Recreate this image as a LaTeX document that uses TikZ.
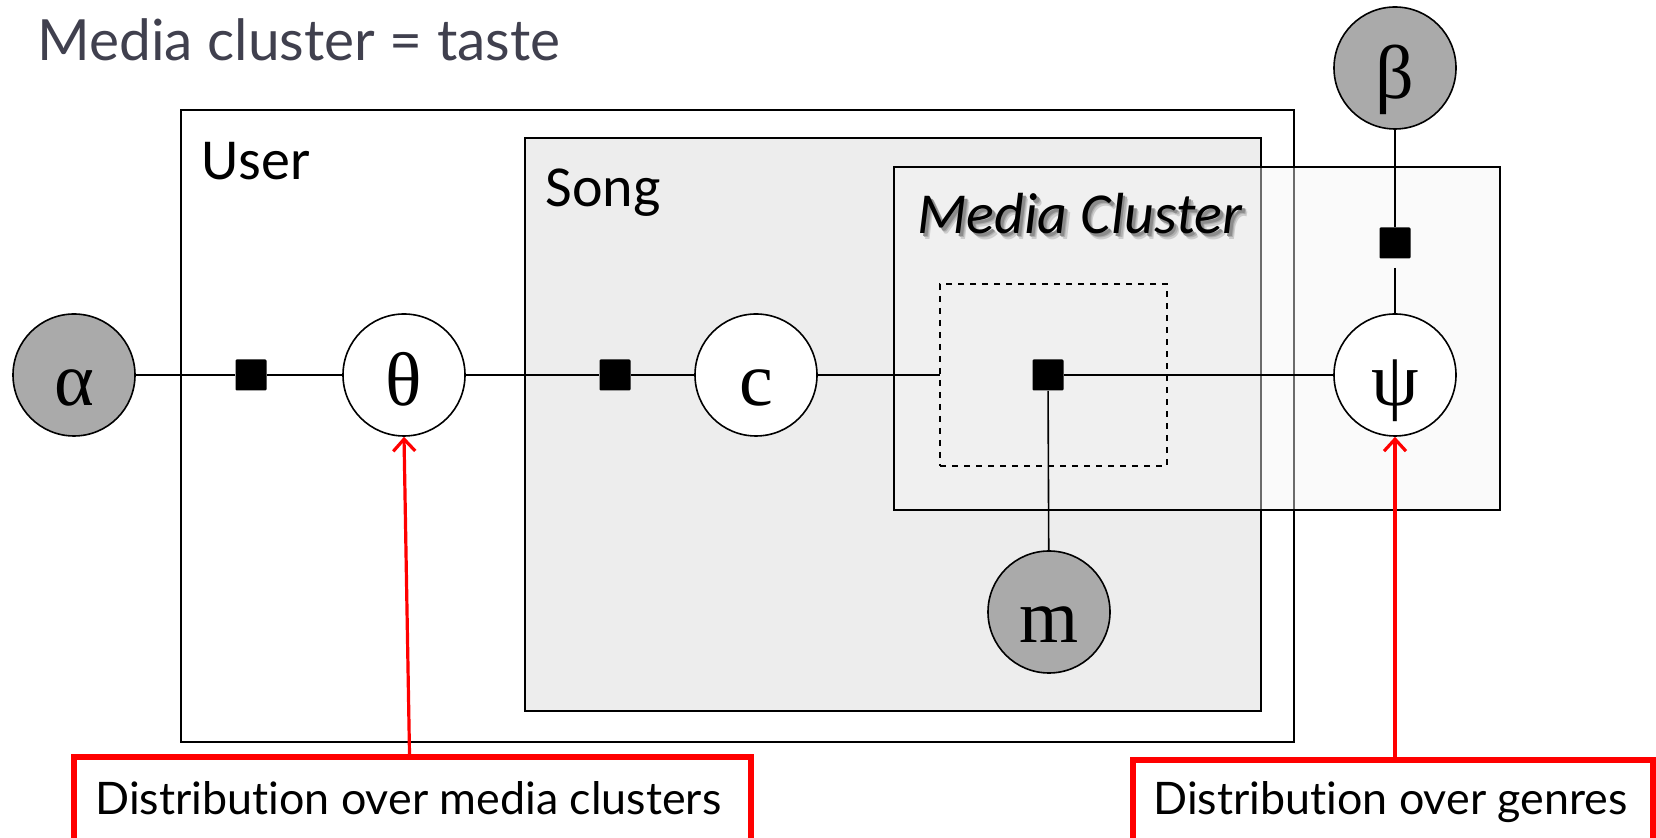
\documentclass[tikz,border=0pt]{standalone}
\usepackage{fontspec}
\setmainfont{Liberation Serif}
\newfontfamily\gillfont[Ligatures={NoCommon}]{Lato}
\newfontfamily\calfont{Carlito}
\usetikzlibrary{arrows.meta,shadows}

\definecolor{obsgray}{RGB}{170,170,170}
\definecolor{songgray}{RGB}{237,237,237}
\definecolor{mediagray}{RGB}{244,244,244}
\definecolor{titlegray}{RGB}{64,64,78}
\definecolor{calloutred}{RGB}{255,0,0}
\definecolor{shadeA}{RGB}{205,205,205}
\definecolor{shadeB}{RGB}{175,175,175}
\definecolor{shadeC}{RGB}{140,140,140}

% soft shadow behind a piece of text, built from offset grey copies
\newcommand{\softshadowtext}[1]{%
  \rlap{\color{shadeA}\kern2.6pt\raisebox{-2.6pt}{#1}}%
  \rlap{\color{shadeB}\kern2pt\raisebox{-2pt}{#1}}%
  \rlap{\color{shadeC}\kern1.4pt\raisebox{-1.4pt}{#1}}%
  #1}

\begin{document}
\begin{tikzpicture}[x=0.5pt,y=-0.5pt,
  var/.style={circle,draw=black,line width=0.8pt,fill=white,minimum size=61pt,
    inner sep=0pt,font=\fontsize{38}{38}\selectfont,text height=31pt,text depth=0pt},
  obs/.style={var,fill=obsgray},
  fac/.style={rectangle,fill=black,minimum size=15.5pt,inner sep=0pt,rounded corners=0.6pt},
  plate/.style={rectangle,draw=black,inner sep=0pt,outer sep=0pt},
  platelabel/.style={anchor=base west,inner sep=0pt,font=\calfont\fontsize{29}{29}\selectfont},
  edge/.style={line width=0.8pt},
  callout/.style={rectangle,draw=calloutred,line width=3pt,fill=white,inner sep=0pt,
    drop shadow={opacity=0.25,shadow xshift=1pt,shadow yshift=-1.5pt}},
  callouttext/.style={anchor=base west,inner sep=0pt,font=\gillfont\fontsize{22.4}{22.4}\selectfont},
  pointer/.style={draw=calloutred,line width=1.6pt,-{Straight Barb[length=6pt,width=11pt]}},
]
\useasboundingbox (0,0) rectangle (1656,838);

% title
\node[anchor=base west,inner sep=0pt,text=titlegray,font=\gillfont\fontsize{28.4}{28.4}\selectfont]
  (title) at (37,61) {Media cluster = taste};

% plates
\node[plate,line width=1.2pt,fill=white,minimum width=556.5pt,minimum height=316pt]
  (user) at (737.5,426) {};
\node[platelabel] (userlbl) at (201,180) {User};

\node[plate,line width=0.9pt,fill=songgray,minimum width=368pt,minimum height=286.5pt]
  (song) at (893,424.5) {};
\node[platelabel] (songlbl) at (545,207) {Song};

\node[plate,line width=1pt,fill=mediagray,fill opacity=0.44,draw opacity=1,
  minimum width=303pt,minimum height=171.5pt] (media) at (1197,338.5) {};
\node[platelabel,font=\calfont\itshape\fontsize{29}{29}\selectfont]
  (medialbl) at (917,234) {\softshadowtext{Media Cluster}};

\node[plate,dashed,line width=0.6pt,minimum width=113.5pt,minimum height=91pt]
  (gate) at (1053.5,375) {};

% variables
\node[obs] (alpha) at (74,375) {α};
\node[var] (theta) at (404,375) {θ};
\node[var] (c) at (756,375) {c};
\node[var] (psi) at (1395,375) {ψ};
\node[obs] (m) at (1049,612) {m};
\node[obs] (beta) at (1395,68) {β};

% factors
\node[fac] (f1) at (251,375) {};
\node[fac] (f2) at (615,375) {};
\node[fac] (f3) at (1048,375) {};
\node[fac] (f4) at (1395,243) {};

% edges
\draw[edge] (alpha) -- (f1) -- (theta);
\draw[edge] (theta) -- (f2) -- (c);
\draw[edge] (c) -- (gate.west);
\draw[edge] (f3) -- (psi);
\draw[edge] (f3) -- (m);
\draw[edge,shorten <=4.5pt] (beta) -- (f4) -- (psi);

% callouts
\node[callout,minimum width=338.5pt,minimum height=44pt] (red1) at (412.5,801) {};
\node[callouttext] (red1txt) at (95,815) {Distribution over media clusters};
\node[callout,minimum width=260pt,minimum height=42.5pt] (red2) at (1393,802.5) {};
\node[callouttext] (red2txt) at (1153,815) {Distribution over genres};

\draw[pointer] ([xshift=-1.5pt]red1.north) -- (theta.south);
\draw[pointer] (red2.north -| psi) -- (psi.south);
\end{tikzpicture}
\end{document}
